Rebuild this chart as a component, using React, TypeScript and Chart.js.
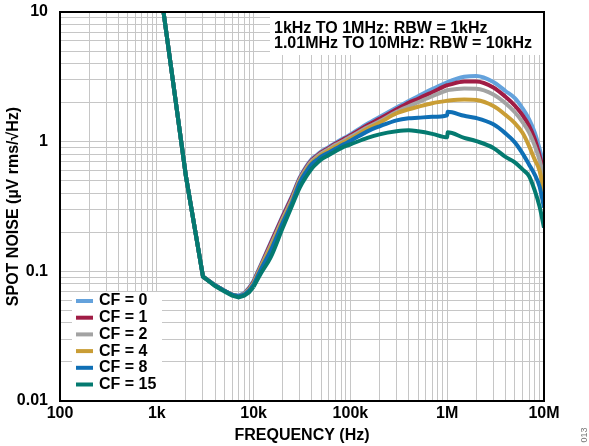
import React, { useEffect, useRef } from "react";
import { Chart, registerables } from "chart.js";

Chart.register(...registerables);

// Frequencies (Hz)
const frequencies = [
  1000, 2000, 3000, 4000, 5000, 6000, 7000, 8000, 9000, 10000,
  12000, 15000, 20000, 25000, 30000, 35000, 40000, 45000, 50000, 60000, 70000, 85000,
  100000, 150000, 200000, 300000, 400000, 500000, 700000,
  1000000, 1010000,
  1500000, 2000000, 3000000, 4000000, 5000000, 6000000, 7000000, 8000000, 9000000, 10000000,
];

// Spot noise (µV rms/√Hz)
const cf0 = [24, 0.54, 0.091, 0.078, 0.071, 0.066, 0.065, 0.068, 0.075, 0.0846, 0.1145, 0.1664, 0.2692, 0.3843, 0.53, 0.644, 0.736, 0.79, 0.841, 0.912, 0.979, 1.061, 1.139, 1.375, 1.552, 1.835, 2.061, 2.24, 2.543, 2.875, 2.885, 3.165, 3.216, 2.89, 2.458, 2.166, 1.809, 1.495, 1.184, 0.883, 0.656];
const cf1 = [24, 0.54, 0.091, 0.078, 0.071, 0.066, 0.064, 0.067, 0.074, 0.0831, 0.1125, 0.1635, 0.2644, 0.3775, 0.52, 0.633, 0.723, 0.777, 0.826, 0.896, 0.962, 1.042, 1.115, 1.337, 1.501, 1.777, 1.996, 2.143, 2.406, 2.725, 2.73, 2.906, 2.911, 2.621, 2.221, 1.898, 1.603, 1.327, 1.053, 0.785, 0.569];
const cf2 = [24, 0.54, 0.091, 0.078, 0.071, 0.066, 0.064, 0.067, 0.073, 0.0816, 0.1105, 0.1578, 0.2551, 0.3643, 0.511, 0.622, 0.71, 0.763, 0.812, 0.88, 0.945, 1.018, 1.089, 1.29, 1.436, 1.7, 1.875, 2.013, 2.24, 2.493, 2.497, 2.57, 2.561, 2.313, 1.978, 1.685, 1.415, 1.18, 0.936, 0.721, 0.52];
const cf4 = [24, 0.54, 0.091, 0.078, 0.071, 0.066, 0.064, 0.066, 0.072, 0.0802, 0.1085, 0.1522, 0.2461, 0.3516, 0.497, 0.605, 0.692, 0.743, 0.79, 0.857, 0.912, 0.988, 1.051, 1.256, 1.398, 1.655, 1.777, 1.858, 1.978, 2.068, 2.07, 2.113, 2.094, 1.882, 1.609, 1.388, 1.17, 0.928, 0.73, 0.598, 0.405];
const cf8 = [24, 0.54, 0.091, 0.078, 0.071, 0.066, 0.064, 0.066, 0.071, 0.0788, 0.1047, 0.1443, 0.2376, 0.3393, 0.484, 0.589, 0.674, 0.723, 0.77, 0.826, 0.88, 0.953, 1.014, 1.201, 1.313, 1.461, 1.514, 1.528, 1.555, 1.597, 1.7, 1.583, 1.522, 1.361, 1.159, 0.988, 0.812, 0.667, 0.559, 0.451, 0.31];
const cf15 = [24, 0.54, 0.091, 0.077, 0.07, 0.065, 0.063, 0.065, 0.069, 0.076, 0.0975, 0.128, 0.217, 0.322, 0.443, 0.539, 0.622, 0.68, 0.73, 0.788, 0.844, 0.912, 0.953, 1.07, 1.139, 1.201, 1.223, 1.201, 1.149, 1.08, 1.18, 1.07, 1.009, 0.895, 0.763, 0.692, 0.611, 0.544, 0.423, 0.316, 0.217];

const seriesLabels = ["CF = 0", "CF = 1", "CF = 2", "CF = 4", "CF = 8", "CF = 15"];
const seriesColors = ["#64a2dc", "#a01c45", "#a3a3a3", "#c99d35", "#0f6fb5", "#047a70"];
const seriesValues = [cf0, cf1, cf2, cf4, cf8, cf15];

const xMajorTicks = [100, 1000, 10000, 100000, 1000000, 10000000];
const xTickLabels = ["100", "1k", "10k", "100k", "1M", "10M"];
const yMajorTicks = [0.01, 0.1, 1, 10];
const yTickLabels = ["0.01", "0.1", "1", "10"];
const minorMultiples = [2, 3, 4, 5, 6, 7, 8, 9];

// frequency where the straight-segment low-frequency part ends
const smoothFrom = 10000;

const noteLines = ["1kHz TO 1MHz: RBW = 1kHz", "1.01MHz TO 10MHz: RBW = 10kHz"];
const xTitle = "FREQUENCY (Hz)";
const yTitle = "SPOT NOISE (µV rms/√Hz)";

const FONT = "'Liberation Sans', Arial, Helvetica, sans-serif";

function gridTicks(majors: number[]) {
  const vals: number[] = [];
  majors.forEach((m, i) => {
    vals.push(m);
    if (i < majors.length - 1) minorMultiples.forEach((k) => vals.push(parseFloat((m * k).toPrecision(6))));
  });
  return vals;
}

const overlayPlugin = {
  id: "overlay",
  afterDatasetsDraw(chart: any) {
    const ctx = chart.ctx as CanvasRenderingContext2D;
    const a = chart.chartArea;
    ctx.save();
    // annotation box
    ctx.fillStyle = "#fff";
    ctx.fillRect(a.left + 210, a.top + 1, a.right - a.left - 211, 42);
    ctx.fillStyle = "#000";
    ctx.font = `bold 16px ${FONT}`;
    ctx.textAlign = "left";
    ctx.textBaseline = "middle";
    noteLines.forEach((t, i) => ctx.fillText(t, a.left + 214, a.top + 16.5 + i * 15.5));
    // legend box
    ctx.fillStyle = "#fff";
    ctx.fillRect(a.left + 12, a.top + 280, 90, a.bottom - a.top - 281);
    seriesLabels.forEach((label, i) => {
      const y = a.top + 289 + i * 16.7;
      ctx.strokeStyle = seriesColors[i];
      ctx.lineWidth = 4;
      ctx.beginPath();
      ctx.moveTo(a.left + 16, y);
      ctx.lineTo(a.left + 33, y);
      ctx.stroke();
      ctx.fillStyle = "#000";
      ctx.fillText(label, a.left + 39, y);
    });
    // frame
    ctx.strokeStyle = "#000";
    ctx.lineWidth = 2;
    ctx.strokeRect(a.left, a.top, a.right - a.left, a.bottom - a.top);
    // figure code
    ctx.translate(585, 435);
    ctx.rotate(-Math.PI / 2);
    ctx.fillStyle = "#777";
    ctx.font = `9px ${FONT}`;
    ctx.textAlign = "center";
    ctx.fillText("013", 0, 0);
    ctx.restore();
  },
};

export default function App() {
  const ref = useRef<HTMLCanvasElement>(null);
  useEffect(() => {
    if (!ref.current) return;
    Chart.defaults.font.family = FONT;
    const xGrid = gridTicks(xMajorTicks);
    const yGrid = gridTicks(yMajorTicks);
    const split = frequencies.indexOf(smoothFrom);
    const datasets: any[] = [];
    seriesValues.forEach((vals, i) => {
      const pts = frequencies.map((f, j) => ({ x: f, y: vals[j] }));
      const common = {
        label: seriesLabels[i],
        borderColor: seriesColors[i],
        backgroundColor: seriesColors[i],
        borderWidth: 4,
        pointRadius: 0,
        order: seriesValues.length - i,
      };
      datasets.push({ ...common, data: pts.slice(0, split + 1), tension: 0 });
      datasets.push({ ...common, data: pts.slice(split), cubicInterpolationMode: "monotone" });
    });
    const chart = new Chart(ref.current, {
      type: "line",
      data: { datasets },
      options: {
        responsive: false,
        devicePixelRatio: 1,
        animation: false,
        layout: { padding: { top: 12, right: 45, left: 0, bottom: 0 } },
        plugins: { legend: { display: false }, tooltip: { enabled: false } },
        scales: {
          x: {
            type: "logarithmic",
            min: 100,
            max: 10000000,
            afterBuildTicks: (scale: any) => {
              scale.ticks = xGrid.map((v) => ({ value: v }));
            },
            afterFit: (scale: any) => {
              scale.height = 45;
            },
            ticks: {
              autoSkip: false,
              maxRotation: 0,
              padding: 3,
              color: "#000",
              font: { size: 16, weight: "bold" },
              callback: (v: any) => {
                const k = xMajorTicks.indexOf(Number(v));
                return k >= 0 ? xTickLabels[k] : "";
              },
            },
            grid: { color: "#c6c6c6", lineWidth: 1, drawTicks: false },
            border: { display: true, color: "#000", width: 2 },
            title: {
              display: true,
              text: xTitle,
              color: "#000",
              font: { size: 16, weight: "bold" },
              padding: { top: 0, bottom: 1 },
            },
          },
          y: {
            type: "logarithmic",
            min: 0.01,
            max: 10,
            afterBuildTicks: (scale: any) => {
              scale.ticks = yGrid.map((v) => ({ value: v }));
            },
            afterFit: (scale: any) => {
              scale.width = 60;
              scale.paddingTop = 0;
              scale.paddingBottom = 0;
            },
            ticks: {
              autoSkip: false,
              padding: 12,
              color: "#000",
              font: { size: 16, weight: "bold" },
              callback: (v: any) => {
                const k = yMajorTicks.indexOf(Number(v));
                return k >= 0 ? yTickLabels[k] : "";
              },
            },
            grid: { color: "#c6c6c6", lineWidth: 1, drawTicks: false },
            border: { display: true, color: "#000", width: 2 },
            title: {
              display: true,
              text: yTitle,
              color: "#000",
              font: { size: 16, weight: "bold" },
              padding: { top: 4, bottom: 0 },
            },
          },
        },
      },
      plugins: [overlayPlugin],
    });
    return () => chart.destroy();
  }, []);
  return (
    <div style={{ position: "absolute", left: 0, top: 0, width: 589, height: 446, background: "#fff" }}>
      <canvas ref={ref} width={589} height={446} style={{ display: "block", width: 589, height: 446 }} />
    </div>
  );
}
